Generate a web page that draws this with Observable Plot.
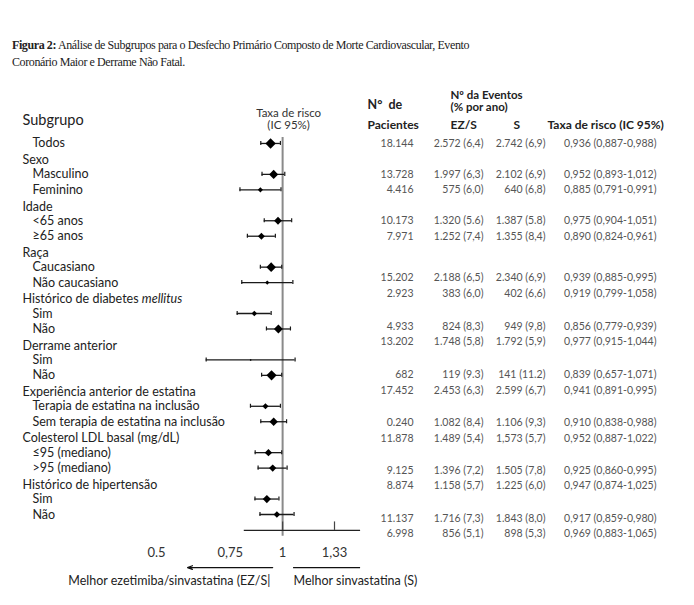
<!DOCTYPE html>
<html><head><meta charset="utf-8">
<script src="https://cdn.jsdelivr.net/npm/d3@7"></script>
<script src="https://cdn.jsdelivr.net/npm/@observablehq/plot@0.6"></script>
<style>
body{margin:0;background:#fff;}
#wrap{position:relative;width:694px;height:605px;overflow:hidden;}
#chart{position:absolute;left:0;top:0;}
#title{position:absolute;left:12px;top:37px;font-family:"Liberation Serif",serif;font-size:12px;line-height:17px;color:#222;letter-spacing:-0.4px;}
</style></head><body>
<div id="wrap"><div id="chart"></div>
<div id="title"><b>Figura 2:</b> Análise de Subgrupos para o Desfecho Primário Composto de Morte Cardiovascular, Evento<br>Coronário Maior e Derrame Não Fatal.</div></div>
<script>
// ---- data ----
const groups = ["", "Sexo", "Idade", "Raça", "Histórico de diabetes mellitus", "Derrame anterior",
  "Experiência anterior de estatina", "Colesterol LDL basal (mg/dL)", "Histórico de hipertensão"];
const rowGroup = [0, 1, 1, 2, 2, 3, 3, 4, 4, 5, 5, 6, 6, 7, 7, 8, 8];
const subgroups = ["Todos", "Masculino", "Feminino", "<65 anos", "≥65 anos", "Caucasiano", "Não caucasiano",
  "Sim", "Não", "Sim", "Não", "Terapia de estatina na inclusão", "Sem terapia de estatina na inclusão",
  "≤95 (mediano)", ">95 (mediano)", "Sim", "Não"];
const patientsText = ["18.144", "13.728", "4.416", "10.173", "7.971", "15.202", "2.923", "4.933", "13.202",
  "682", "17.452", "0.240", "11.878", "9.125", "8.874", "11.137", "6.998"];
const patientsN = [18144, 13728, 4416, 10173, 7971, 15202, 2923, 4933, 13202, 682, 17452, 6240, 11878, 9125, 8874, 11137, 6998];
const eventsEZS = ["2.572 (6,4)", "1.997 (6,3)", "575 (6,0)", "1.320 (5.6)", "1.252 (7,4)", "2.188 (6,5)", "383 (6,0)",
  "824 (8,3)", "1.748 (5,8)", "119 (9.3)", "2.453 (6,3)", "1.082 (8,4)", "1.489 (5,4)", "1.396 (7,2)", "1.158 (5,7)",
  "1.716 (7,3)", "856 (5,1)"];
const eventsS = ["2.742 (6,9)", "2.102 (6,9)", "640 (6,8)", "1.387 (5.8)", "1.355 (8,4)", "2.340 (6,9)", "402 (6,6)",
  "949 (9,8)", "1.792 (5,9)", "141 (11.2)", "2.599 (6,7)", "1.106 (9,3)", "1,573 (5,7)", "1.505 (7,8)", "1.225 (6,0)",
  "1.843 (8,0)", "898 (5,3)"];
const hr = [0.936, 0.952, 0.885, 0.975, 0.890, 0.939, 0.919, 0.856, 0.977, 0.839, 0.941, 0.910, 0.952, 0.925, 0.947, 0.917, 0.969];
const lo = [0.887, 0.893, 0.791, 0.904, 0.824, 0.885, 0.799, 0.779, 0.915, 0.657, 0.891, 0.838, 0.887, 0.860, 0.874, 0.859, 0.883];
const hi = [0.988, 1.012, 0.991, 1.051, 0.961, 0.995, 1.058, 0.939, 1.044, 1.071, 0.995, 0.988, 1.022, 0.995, 1.025, 0.980, 1.065];
const tickValues = [0.5, 0.75, 1, 1.33];
const tickLabels = ["0.5", "0,75", "1", "1,33"];

// ---- layout (line units) ----
const tableShift = [0, 0, 0, 0.71, 0.84, 0.97, 1.07, 1.16, 1.26];
const headerShift = 0.08;
const fmt = v => d3.format(".3f")(v).replace(".", ",");
const rows = [], headers = [];
let L = 0, prevG = -1;
subgroups.forEach((s, i) => {
  const g = rowGroup[i];
  if (g !== prevG && g > 0) { L += 1; headers.push({label: groups[g], line: L + headerShift}); }
  prevG = g;
  L += 1;
  rows.push({label: s, line: L, tline: L + tableShift[g], n: patientsN[i], hr: hr[i], lo: lo[i], hi: hi[i],
    pt: patientsText[i], ez: eventsEZS[i], s: eventsS[i], hrt: `${fmt(hr[i])} (${fmt(lo[i])}-${fmt(hi[i])})`});
});
const axisLine = 26.03, tickLine = 27.46, arrowLine = 28.43, noteLine = 29.27;
const ticks = tickValues.map((v, i) => ({v, label: tickLabels[i]}));

const font = "Lato, 'Open Sans', sans-serif";
const txt = (data, opts) => Plot.text(data, {frameAnchor: "left", fontFamily: font, ...opts});

const chart = Plot.plot({
  width: 694, height: 605,
  marginTop: 0, marginLeft: 0, marginRight: 0, marginBottom: 75,
  style: {fontFamily: font, background: "white"},
  x: {type: "log", domain: [0.5, 1.33], range: [156, 334], axis: null},
  y: {domain: [0, 30], range: [127.5, 591.3], axis: null},
  r: {type: "sqrt", domain: [0, 18144], range: [0, 4.7]},
  marks: [
    // reference line
    Plot.ruleX([1], {y1: 0.61, y2: 26.4, stroke: "#8a8a8a", strokeWidth: 2}),
    // axis line + upward ticks + tick labels
    Plot.ruleY([axisLine], {x1: 0.81, x2: 1.535, stroke: "#222", strokeWidth: 1.3}),
    Plot.ruleX([1, 1.33], {y1: axisLine - 0.55, y2: axisLine, stroke: "#444", strokeWidth: 1.2}),
    Plot.text(ticks, {x: "v", y: tickLine, text: "label", fontSize: 13, fill: "#333", fontFamily: font}),
    // CI
    Plot.ruleY(rows, {y: "line", x1: "lo", x2: "hi", stroke: "#1a1a1a", strokeWidth: 1.3}),
    Plot.ruleX(rows, {x: "lo", y1: d => d.line - 0.13, y2: d => d.line + 0.13, stroke: "#1a1a1a", strokeWidth: 1.2}),
    Plot.ruleX(rows, {x: "hi", y1: d => d.line - 0.13, y2: d => d.line + 0.13, stroke: "#1a1a1a", strokeWidth: 1.2}),
    Plot.dot(rows, {x: "hr", y: "line", r: "n", symbol: "diamond2", fill: "#000", stroke: null}),
    // left labels
    txt(["Subgrupo"], {y: -0.5, dx: 22, textAnchor: "start", fontSize: 14.5, fill: "#222"}),
    txt(headers, {y: "line", text: "label", dx: 22, textAnchor: "start", fontSize: 12.5, fill: "#222"}),
    txt(rows, {y: "line", text: "label", dx: 32, textAnchor: "start", fontSize: 12.5, fill: "#222"}),
    // forest header
    Plot.text(["Taxa de risco\n(IC 95%)"], {x: 1, dx: 6, y: -0.58, fontSize: 11.5, lineHeight: 1.1, fill: "#333", fontFamily: font}),
    // table header
    txt(["Nº da Eventos\n(% por ano)"], {y: -1.72, dx: 450, textAnchor: "start", fontSize: 11.5, lineHeight: 1.05, fontWeight: "bold", fill: "#222"}),
    txt(["N°  de"], {y: -1.46, dx: 367, textAnchor: "start", fontSize: 12.5, fontWeight: "bold", fill: "#222"}),
    txt(["Pacientes"], {y: -0.16, dx: 367, textAnchor: "start", fontSize: 12, fontWeight: "bold", fill: "#222"}),
    txt(["EZ/S"], {y: -0.16, dx: 450, textAnchor: "start", fontSize: 12, fontWeight: "bold", fill: "#222"}),
    txt(["S"], {y: -0.16, dx: 513, textAnchor: "start", fontSize: 12, fontWeight: "bold", fill: "#222"}),
    txt(["Taxa de risco (IC 95%)"], {y: -0.16, dx: 547, textAnchor: "start", fontSize: 12, fontWeight: "bold", fill: "#222"}),
    // table body
    txt(rows, {y: "tline", text: "pt", dx: 413, textAnchor: "end", fontSize: 10.5, fill: "#555"}),
    txt(rows, {y: "tline", text: "ez", dx: 483, textAnchor: "end", fontSize: 10.5, fill: "#555"}),
    txt(rows, {y: "tline", text: "s", dx: 545, textAnchor: "end", fontSize: 10.5, fill: "#555"}),
    txt(rows, {y: "tline", text: "hrt", dx: 656, textAnchor: "end", fontSize: 10.5, fill: "#555"}),
    // bottom direction notes
    Plot.arrow([0], {x1: 0.9466, x2: 0.593, y1: arrowLine, y2: arrowLine, stroke: "#111", strokeWidth: 1.3, headLength: 6, headAngle: 40}),
    Plot.ruleY([arrowLine], {x1: 1.062, x2: 1.535, stroke: "#111", strokeWidth: 1.3}),
    Plot.text(["Melhor ezetimiba/sinvastatina (EZ/S|"], {x: 0.935, y: noteLine, textAnchor: "end", fontSize: 12.5, fill: "#222", fontFamily: font}),
    Plot.text(["Melhor sinvastatina (S)"], {x: 1.062, y: noteLine, textAnchor: "start", fontSize: 12.5, fill: "#222", fontFamily: font})
  ]
});
// italic "mellitus"
d3.select(chart).selectAll("text").each(function() {
  if (this.textContent === "Histórico de diabetes mellitus") {
    this.textContent = "Histórico de diabetes ";
    d3.select(this).append("tspan").attr("font-style", "italic").text("mellitus");
  }
});
document.getElementById("chart").appendChild(chart);
</script>
</body></html>
